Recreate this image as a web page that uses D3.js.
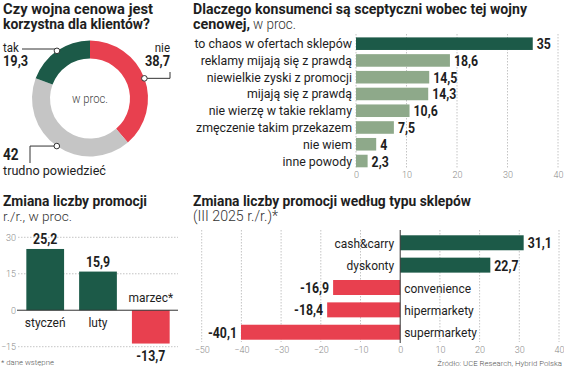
<!DOCTYPE html>
<html><head><meta charset="utf-8">
<script src="https://cdn.jsdelivr.net/npm/d3@7"></script>
<style>
body{margin:0;background:#fff}
svg{display:block}
text{font-family:Roboto,'Noto Sans',sans-serif}
</style></head><body>
<svg id="c" width="564" height="369"></svg>
<script>
// ---------- DATA ----------
const pieLabels = ["nie", "trudno powiedzieć", "tak"];
const pieValues = [38.7, 42, 19.3];

const reasons = ["to chaos w ofertach sklepów", "reklamy mijają się z prawdą", "niewielkie zyski z promocji",
  "mijają się z prawdą", "nie wierzę w takie reklamy", "zmęczenie takim przekazem", "nie wiem", "inne powody"];
const reasonValues = [35, 18.6, 14.5, 14.3, 10.6, 7.5, 4, 2.3];
const reasonTicks = [0, 10, 20, 30, 40];

const months = ["styczeń", "luty", "marzec*"];
const monthValues = [25.2, 15.9, -13.7];
const monthTicks = [-15, 0, 15, 30];

const storeTypes = ["cash&carry", "dyskonty", "convenience", "hipermarkety", "supermarkety"];
const storeValues = [31.1, 22.7, -16.9, -18.4, -40.1];
const storeTicks = [-50, -40, -30, -20, -10, 0, 10, 20, 30, 40];

// ---------- STYLE ----------
const GREEN = "#1c5a48", RED = "#e8404f", GREY = "#c5c5c5", SAGE = "#8ea98a", INK = "#1e1e1e", AX = "#8a8a8a";
const fmt = v => String(v).replace('.', ',');
const svg = d3.select("#c");

function fit(sel, w) { sel.attr("textLength", w).attr("lengthAdjust", "spacingAndGlyphs"); return sel; }
function squeeze(sel, k) {
  sel.each(function () { const w = this.getComputedTextLength(); d3.select(this).attr("textLength", w * k).attr("lengthAdjust", "spacingAndGlyphs"); });
  return sel;
}
function txt(x, y, s, size, weight, anchor, color) {
  return svg.append("text").attr("x", x).attr("y", y).text(s)
    .attr("font-size", size).attr("font-weight", weight || 400)
    .attr("text-anchor", anchor || "start").attr("fill", color || INK);
}

// ---------- TITLES ----------
fit(txt(3, 14, "Czy wojna cenowa jest", 15, 700), 150);
fit(txt(3, 29, "korzystna dla klientów?", 15, 700), 147);
fit(txt(193, 14, "Dlaczego konsumenci są sceptyczni wobec tej wojny", 15, 700), 334);
fit(txt(193, 29, "cenowej,", 15, 700), 57);
fit(txt(253, 29, "w proc.", 14, 300, "start", "#333"), 43);
fit(txt(3, 206, "Zmiana liczby promocji", 15, 700), 144);
fit(txt(3, 221, "r./r., w proc.", 13.5, 300, "start", "#333"), 69);
fit(txt(193, 206, "Zmiana liczby promocji według typu sklepów", 15, 700), 278);
fit(txt(193, 221, "(III 2025 r./r.)*", 14, 300, "start", "#333"), 85);

// ---------- DONUT ----------
const cx = 90, cy = 98.5, R = 58, r0 = 40;
const pie = d3.pie().sort(null).value(d => d)(pieValues);
const arc = d3.arc().innerRadius(r0).outerRadius(R);
const edge = d3.arc().innerRadius(R).outerRadius(R);
const pieColors = [RED, GREY, GREEN];
const g0 = svg.append("g").attr("transform", `translate(${cx},${cy})`);
g0.selectAll("path").data(pie).join("path").attr("d", arc).attr("fill", (d, i) => pieColors[i]);
squeeze(txt(cx, cy + 4, "w proc.", 12.5, 300, "middle", "#444"), 0.9);

// leader lines (layout anchors)
const leaders = [
  p => `M${p[0]},${p[1]}H170V72`,
  p => `M${p[0]},${p[1]}H30V163`,
  p => `M${p[0]},${p[1]}V49H22`
];
pie.forEach((d, i) => {
  const c = edge.centroid(d); const p = [cx + c[0], cy + c[1]];
  svg.append("path").attr("d", leaders[i](p)).attr("fill", "none").attr("stroke", "#333").attr("stroke-width", 1);
  svg.append("circle").attr("cx", p[0]).attr("cy", p[1]).attr("r", 2.8).attr("fill", "#fff").attr("stroke", "#333").attr("stroke-width", 1);
});
squeeze(txt(170, 52, pieLabels[0], 12.5, 400, "end"), 0.92);
squeeze(txt(170, 66, fmt(pieValues[0]), 14.5, 700, "end"), 0.88);
squeeze(txt(3, 52, pieLabels[2], 12.5, 400), 0.92);
squeeze(txt(3, 66, fmt(pieValues[2]), 14.5, 700), 0.88);
squeeze(txt(3, 160, fmt(pieValues[1]), 16, 700), 0.85);
squeeze(txt(3, 175, pieLabels[1], 13, 400), 0.97);

// ---------- REASONS BAR CHART ----------
const x1 = d3.scaleLinear().domain([0, 40]).range([356, 558]);
const y1 = d3.scaleBand().domain(reasons).range([35.3, 169.4]).paddingInner(0.25).paddingOuter(0.125);
const g1 = svg.append("g");
g1.selectAll("line.grid").data(reasonTicks).join("line").attr("class", "grid")
  .attr("x1", d => x1(d)).attr("x2", d => x1(d)).attr("y1", 34).attr("y2", 169)
  .attr("stroke", "#b5b5b5").attr("stroke-width", 0.8).attr("stroke-dasharray", "1.5,1.5");
g1.selectAll("rect").data(reasonValues).join("rect")
  .attr("x", x1(0)).attr("y", (d, i) => y1(reasons[i]))
  .attr("width", d => x1(d) - x1(0)).attr("height", y1.bandwidth())
  .attr("fill", (d, i) => i === 0 ? GREEN : SAGE);
const ax1 = g1.append("g").attr("transform", "translate(0,168)")
  .call(d3.axisBottom(x1).tickValues(reasonTicks).tickSize(0).tickPadding(4));
ax1.select(".domain").remove();
ax1.selectAll("text").attr("font-size", 9).attr("fill", AX).attr("font-family", "Roboto,sans-serif").attr("font-weight", 300);
squeeze(g1.selectAll("text.cat").data(reasons).join("text").attr("class", "cat")
  .attr("x", 352).attr("y", d => y1(d) + y1.bandwidth() / 2 + 4.5).attr("text-anchor", "end")
  .attr("font-size", 13).attr("fill", INK).text(d => d), 0.95);
squeeze(g1.selectAll("text.val").data(reasonValues).join("text").attr("class", "val")
  .attr("x", d => x1(d) + 4).attr("y", (d, i) => y1(reasons[i]) + y1.bandwidth() / 2 + 5.5)
  .attr("font-size", 15).attr("font-weight", 700).attr("fill", INK).text(d => fmt(d)), 0.82);

// ---------- MONTHS COLUMN CHART ----------
const y3 = d3.scaleLinear().domain([-15, 30]).range([346.7, 237.3]);
const x3 = d3.scaleBand().domain(months).range([20, 176]).paddingInner(0.285).paddingOuter(0.12);
const g3 = svg.append("g");
g3.selectAll("line.grid").data(monthTicks.filter(d => d !== 0)).join("line").attr("class", "grid")
  .attr("x1", 18).attr("x2", 178).attr("y1", d => y3(d)).attr("y2", d => y3(d))
  .attr("stroke", "#b5b5b5").attr("stroke-width", 0.8).attr("stroke-dasharray", "1.5,1.5");
const ax3 = g3.append("g").attr("transform", "translate(16,0)")
  .call(d3.axisLeft(y3).tickValues(monthTicks).tickSize(0).tickPadding(0));
ax3.select(".domain").remove();
ax3.selectAll("text").attr("font-size", 9).attr("fill", AX).attr("font-family", "Roboto,sans-serif").attr("font-weight", 300);
g3.selectAll("rect").data(monthValues).join("rect")
  .attr("x", (d, i) => x3(months[i])).attr("width", x3.bandwidth())
  .attr("y", d => y3(Math.max(0, d))).attr("height", d => Math.abs(y3(d) - y3(0)))
  .attr("fill", d => d >= 0 ? GREEN : RED);
g3.append("line").attr("x1", 17).attr("x2", 178).attr("y1", y3(0)).attr("y2", y3(0)).attr("stroke", "#333").attr("stroke-width", 1);
squeeze(g3.selectAll("text.cat").data(months).join("text").attr("class", "cat")
  .attr("x", d => x3(d) + x3.bandwidth() / 2)
  .attr("y", (d, i) => monthValues[i] >= 0 ? y3(0) + 17 : y3(0) - 8)
  .attr("text-anchor", "middle").attr("font-size", 13).attr("fill", INK).text(d => d), 0.92);
squeeze(g3.selectAll("text.val").data(monthValues).join("text").attr("class", "val")
  .attr("x", (d, i) => x3(months[i]) + x3.bandwidth() / 2)
  .attr("y", d => d >= 0 ? y3(d) - 5 : y3(d) + 17)
  .attr("text-anchor", "middle").attr("font-size", 15).attr("font-weight", 700).attr("fill", INK).text(d => fmt(d)), 0.82);
txt(1, 365, "* dane wstępne", 7.8, 300, "start", "#555");

// ---------- STORE TYPES BAR CHART ----------
const x2 = d3.scaleLinear().domain([-50, 40]).range([201.7, 559]);
const y2 = d3.scaleBand().domain(storeTypes).range([231.6, 343.4]).paddingInner(0.33).paddingOuter(0.165);
const g2 = svg.append("g");
g2.selectAll("line.grid").data(storeTicks.filter(d => d !== 0)).join("line").attr("class", "grid")
  .attr("x1", d => x2(d)).attr("x2", d => x2(d)).attr("y1", 230).attr("y2", 342)
  .attr("stroke", "#b5b5b5").attr("stroke-width", 0.8).attr("stroke-dasharray", "1.5,1.5");
const ax2 = g2.append("g").attr("transform", "translate(0,343)")
  .call(d3.axisBottom(x2).tickValues(storeTicks).tickSize(0).tickPadding(4));
ax2.select(".domain").remove();
ax2.selectAll("text").attr("font-size", 9).attr("fill", AX).attr("font-family", "Roboto,sans-serif").attr("font-weight", 300);
g2.selectAll("rect").data(storeValues).join("rect")
  .attr("x", d => x2(Math.min(0, d))).attr("width", d => Math.abs(x2(d) - x2(0)))
  .attr("y", (d, i) => y2(storeTypes[i])).attr("height", y2.bandwidth())
  .attr("fill", d => d >= 0 ? GREEN : RED);
g2.append("line").attr("x1", x2(0)).attr("x2", x2(0)).attr("y1", 230).attr("y2", 343).attr("stroke", "#333").attr("stroke-width", 1);
squeeze(g2.selectAll("text.cat").data(storeTypes).join("text").attr("class", "cat")
  .attr("x", (d, i) => storeValues[i] >= 0 ? x2(0) - 6 : x2(0) + 4)
  .attr("y", d => y2(d) + y2.bandwidth() / 2 + 5)
  .attr("text-anchor", (d, i) => storeValues[i] >= 0 ? "end" : "start")
  .attr("font-size", 13).attr("fill", INK).text(d => d), 0.92);
squeeze(g2.selectAll("text.val").data(storeValues).join("text").attr("class", "val")
  .attr("x", d => d >= 0 ? x2(d) + 4 : x2(d) - 4)
  .attr("y", (d, i) => y2(storeTypes[i]) + y2.bandwidth() / 2 + 5.5)
  .attr("text-anchor", d => d >= 0 ? "start" : "end")
  .attr("font-size", 15).attr("font-weight", 700).attr("fill", INK).text(d => fmt(d)), 0.82);
txt(562, 365.5, "Źródło: UCE Research, Hybrid Polska", 7.8, 300, "end", "#555");
</script>
</body></html>
